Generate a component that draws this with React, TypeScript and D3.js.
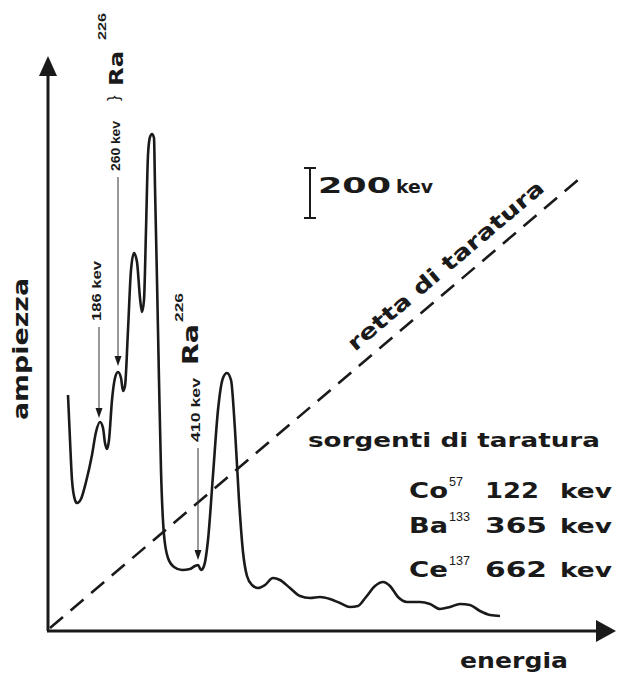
import * as d3 from "d3";

// spectrum (channel, amplitude in arbitrary units)
const spectrumChannel = [
  4.0, 4.4, 4.8, 5.4, 5.8, 6.6, 7.6, 8.8, 9.6, 10.4, 11.0, 11.4, 11.8, 12.2, 12.8,
  13.4, 14.0, 14.6, 15.0, 15.4, 16.0, 16.6, 17.2, 17.8, 18.4, 18.8, 19.2, 19.6,
  20.0, 20.4, 20.8, 21.2, 21.4, 21.8, 22.2, 22.6, 23.2, 24.0, 25.2, 26.8, 28.4,
  29.4, 30.0, 30.6, 31.2, 32.0, 33.0, 34.0, 35.0, 35.8, 36.6, 37.4, 38.2, 39.0,
  39.8, 40.8, 42.0, 43.4, 45.0, 46.4, 48.4, 50.4, 52.4, 54.4, 56.4, 58.4, 60.4,
  62.0, 63.6, 65.4, 67.0, 68.4, 70.0, 71.8, 74.4, 76.4, 78.4, 80.4, 82.4, 84.4,
  86.4, 88.4, 90.4,
];
const spectrumAmplitude = [
  47.2, 38.2, 30.2, 26.2, 25.6, 26.4, 29.8, 35.2, 39.8, 41.8, 40.6, 37.6, 36.4,
  38.2, 46.2, 50.6, 51.8, 50.6, 48.0, 49.0, 60.2, 72.2, 75.6, 73.8, 66.6, 63.8,
  66.2, 80.2, 95.2, 98.8, 99.4, 98.6, 88.8, 70.2, 50.2, 32.2, 19.2, 14.6, 12.8,
  12.2, 12.4, 13.0, 13.2, 12.2, 13.0, 18.2, 31.2, 44.2, 50.6, 51.6, 50.2, 40.2,
  26.2, 15.8, 11.0, 9.2, 8.6, 9.2, 10.6, 10.2, 8.6, 7.0, 6.6, 6.8, 6.4, 5.6, 4.8,
  5.0, 6.8, 9.0, 9.8, 9.0, 6.8, 5.8, 5.8, 5.4, 4.4, 4.8, 5.4, 5.2, 4.0, 3.2, 3.0,
];

// Ra226 lines marked with arrows
const peakLabels = ["186 kev", "260 kev", "410 kev"];
const peakChannel = [10.2, 14.0, 30.0];
const peakArrowTop = [60.8, 90.8, 36.6];
const peakArrowTip = [42.6, 53.0, 14.2];

// calibration sources
const sourceElements = ["Co", "Ba", "Ce"];
const sourceMass = ["57", "133", "137"];
const sourceEnergy = ["122", "365", "662"];

// calibration line end points
const calibChannel = [0.4, 106];
const calibAmplitude = [0.6, 90.2];

const W = 617;
const H = 673;
const bold = "'DejaVu Sans', sans-serif";
const small = "'Liberation Sans', Arial, sans-serif";

export default function App() {
  const x = d3.scaleLinear().domain([0, 112]).range([48, 608]);
  const y = d3.scaleLinear().domain([0, 114]).range([631, 61]);

  const spectrum = d3
    .line<number>()
    .x((d) => x(spectrumChannel[d]))
    .y((d) => y(spectrumAmplitude[d]))
    .curve(d3.curveMonotoneX)(d3.range(spectrumChannel.length));

  const calib = d3
    .line<number>()
    .x((d) => x(calibChannel[d]))
    .y((d) => y(calibAmplitude[d]))([0, 1]);

  const angle =
    (Math.atan2(y(calibAmplitude[1]) - y(calibAmplitude[0]), x(calibChannel[1]) - x(calibChannel[0])) * 180) /
    Math.PI;

  const rowBase = [498, 533, 577];
  const numLen = [54, 62, 62];

  return (
    <svg width={W} height={H} style={{ position: "absolute", left: 0, top: 0, background: "#fff" }}>
      {/* axes */}
      <line x1={x(0)} y1={y(0)} x2={x(0)} y2={y(111)} stroke="#1a1a1a" strokeWidth={3} />
      <path d={`M${x(0) - 9},${y(111)} L${x(0)},${y(111) - 20} L${x(0) + 9},${y(111)} Z`} fill="#1a1a1a" />
      <line x1={x(0) - 1} y1={y(0)} x2={x(110)} y2={y(0)} stroke="#1a1a1a" strokeWidth={3} />
      <path d={`M${x(110) - 2},${y(0) - 11} L${x(110) + 18},${y(0)} L${x(110) - 2},${y(0) + 11} Z`} fill="#1a1a1a" />

      {/* calibration line */}
      <path d={calib ?? ""} fill="none" stroke="#1a1a1a" strokeWidth={2.6} strokeDasharray="17,10" />

      {/* spectrum */}
      <path d={spectrum ?? ""} fill="none" stroke="#1a1a1a" strokeWidth={2.6} strokeLinejoin="round" />

      {/* peak arrows */}
      {peakLabels.map((label, i) => {
        const px = x(peakChannel[i]);
        const top = y(peakArrowTop[i]);
        const tip = y(peakArrowTip[i]);
        const len = [60, 50, 64][i];
        return (
          <g key={label}>
            <line x1={px} y1={top} x2={px} y2={tip - 8} stroke="#333" strokeWidth={1} />
            <path d={`M${px - 3.5},${tip - 10} L${px},${tip} L${px + 3.5},${tip - 10} Z`} fill="#1a1a1a" />
            <text
              transform={`translate(${px + 2},${top - 6}) rotate(-90)`}
              fontFamily={small}
              fontWeight="bold"
              fontSize={12}
              textLength={len}
              lengthAdjust="spacingAndGlyphs"
              fill="#1a1a1a"
            >
              {label}
            </text>
          </g>
        );
      })}

      {/* Ra226 marks (rotated frame: x = -screenY) */}
      <g transform={`translate(${x(14.0) + 5},0) rotate(-90)`} fill="#1a1a1a">
        <text x={-101} y={-4} fontFamily={small} fontSize={17}>{"}"}</text>
        <text x={-86} y={0} fontFamily={bold} fontWeight="bold" fontSize={20} textLength={35} lengthAdjust="spacingAndGlyphs">
          Ra
        </text>
        <text x={-40} y={-17} fontFamily={small} fontSize={11} fontWeight="bold" textLength={27} lengthAdjust="spacingAndGlyphs">
          226
        </text>
      </g>
      <g transform={`translate(${x(30.0)},0) rotate(-90)`} fill="#1a1a1a">
        <text x={-365} y={0} fontFamily={bold} fontWeight="bold" fontSize={21} textLength={41} lengthAdjust="spacingAndGlyphs">
          Ra
        </text>
        <text x={-322} y={-15} fontFamily={small} fontSize={11} fontWeight="bold" textLength={29} lengthAdjust="spacingAndGlyphs">
          226
        </text>
      </g>

      {/* scale bar */}
      <g stroke="#1a1a1a" strokeWidth={2}>
        <line x1={310} y1={168} x2={310} y2={218} />
        <line x1={304} y1={168} x2={316} y2={168} />
        <line x1={304} y1={218} x2={316} y2={218} />
      </g>
      <text x={318} y={193} fontFamily={bold} fontWeight="bold" fontSize={21} textLength={73} lengthAdjust="spacingAndGlyphs" fill="#1a1a1a">
        200
      </text>
      <text x={396} y={193} fontFamily={bold} fontWeight="bold" fontSize={17} textLength={37} lengthAdjust="spacingAndGlyphs" fill="#1a1a1a">
        kev
      </text>

      {/* calibration line label */}
      <text
        transform={`translate(355,352) rotate(${angle})`}
        fontFamily={bold}
        fontWeight="bold"
        fontSize={21}
        textLength={250}
        lengthAdjust="spacingAndGlyphs"
        fill="#1a1a1a"
      >
        retta di taratura
      </text>

      {/* calibration sources */}
      <text x={308} y={447} fontFamily={bold} fontWeight="bold" fontSize={19} textLength={292} lengthAdjust="spacingAndGlyphs" fill="#1a1a1a">
        sorgenti di taratura
      </text>
      {sourceElements.map((el, i) => (
        <g key={el} fill="#1a1a1a">
          <text x={409} y={rowBase[i]} fontFamily={bold} fontWeight="bold" fontSize={21} textLength={39} lengthAdjust="spacingAndGlyphs">
            {el}
          </text>
          <text x={449} y={rowBase[i] - 12} fontFamily={small} fontSize={12} textLength={sourceMass[i].length * 7} lengthAdjust="spacingAndGlyphs">
            {sourceMass[i]}
          </text>
          <text x={485} y={rowBase[i]} fontFamily={bold} fontWeight="bold" fontSize={21} textLength={numLen[i]} lengthAdjust="spacingAndGlyphs">
            {sourceEnergy[i]}
          </text>
          <text x={560} y={rowBase[i]} fontFamily={bold} fontWeight="bold" fontSize={19} textLength={52} lengthAdjust="spacingAndGlyphs">
            kev
          </text>
        </g>
      ))}

      {/* axis titles */}
      <text x={460} y={668} fontFamily={bold} fontWeight="bold" fontSize={22} textLength={108} lengthAdjust="spacingAndGlyphs" fill="#1a1a1a">
        energia
      </text>
      <text
        transform="translate(28,420) rotate(-90)"
        fontFamily={bold}
        fontWeight="bold"
        fontSize={22}
        textLength={142}
        lengthAdjust="spacingAndGlyphs"
        fill="#1a1a1a"
      >
        ampiezza
      </text>
    </svg>
  );
}
